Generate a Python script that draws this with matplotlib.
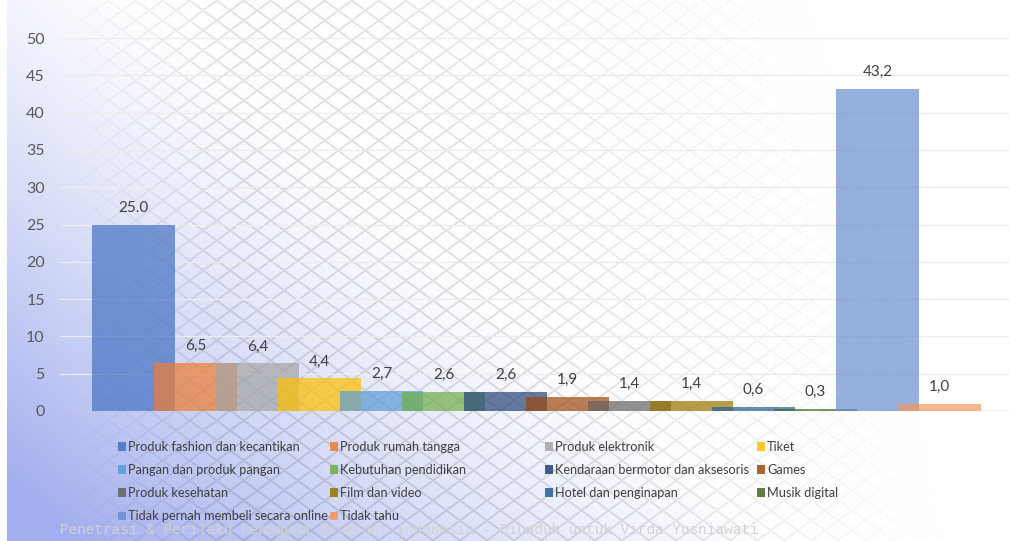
import numpy as np
import matplotlib
matplotlib.use("Agg")
import matplotlib.pyplot as plt
from matplotlib.patches import Patch

categories = [
    "Produk fashion dan kecantikan",
    "Produk rumah tangga",
    "Produk elektronik",
    "Tiket",
    "Pangan dan produk pangan",
    "Kebutuhan pendidikan",
    "Kendaraan bermotor dan aksesoris",
    "Games",
    "Produk kesehatan",
    "Film dan video",
    "Hotel dan penginapan",
    "Musik digital",
    "Tidak pernah membeli secara online",
    "Tidak tahu",
]
values = [25.0, 6.5, 6.4, 4.4, 2.7, 2.6, 2.6, 1.9, 1.4, 1.4, 0.6, 0.3, 43.2, 1.0]
value_labels = ["25.0", "6,5", "6,4", "4,4", "2,7", "2,6", "2,6",
                "1,9", "1,4", "1,4", "0,6", "0,3", "43,2", "1,0"]
colors = ["#4472C4", "#ED7D31", "#A5A5A5", "#FFC000", "#5B9BD5", "#70AD47",
          "#264478", "#9E480E", "#636363", "#997300", "#255E91", "#43682B",
          "#698ED0", "#F1975A"]
yticks = list(range(0, 55, 5))
watermark = "Penetrasi & Perilaku Pengguna Internet Indonesia - Diunduh untuk Virda Yusniawati"

plt.rcParams['font.family'] = ['Lato', 'DejaVu Sans']

W, H = 1009, 541
fig = plt.figure(figsize=(W / 100, H / 100), dpi=100)

# background: blue wash at bottom left + light diamond hatch
yy, xx = np.mgrid[0:H, 0:W].astype(float)
s = xx / W
t = yy / H
w = np.clip(t * 0.9 + 0.2 - 1.4 * s, 0, 1) ** 1.2
blue = np.array([162, 174, 238]) / 255.0
img = np.ones((H, W, 3)) * (1 - w[..., None]) + blue * w[..., None]
k = 0.74
per = 20.0
p1 = np.mod(yy - k * xx, per)
p2 = np.mod(yy + k * xx, per)
d1 = np.minimum(p1, per - p1) / np.sqrt(1 + k * k)
d2 = np.minimum(p2, per - p2) / np.sqrt(1 + k * k)
lines = np.maximum(np.exp(-(d1 / 0.9) ** 2), np.exp(-(d2 / 0.9) ** 2))
h = np.clip(1.6 - 2.0 * s + 1.2 * t - t * s, 0, 1) * np.clip(s * 6 - 0.4, 0, 1)
img = img * (1 - 0.14 * h * lines)[..., None]
img[:, :7, :] = 1.0

bg = fig.add_axes([0, 0, 1, 1], zorder=-10)
bg.imshow(img, aspect='auto', interpolation='bilinear')
bg.axis('off')

ax = fig.add_axes([60 / W, (H - 411) / H, 1 - 60 / W, (411 - 38) / H])
ax.patch.set_alpha(0)
x = np.arange(len(values))
bars = ax.bar(x, values, width=1.34, color=colors, alpha=0.7, edgecolor='none', zorder=3)
for xi, v, lab in zip(x, values, value_labels):
    ax.annotate(lab, (xi, v), xytext=(0, 12), textcoords='offset points',
                ha='center', va='center', fontsize=11, color='#404040', zorder=4)

ax.set_xlim(-1.185, 14.12)
ax.set_ylim(0, 50)
ax.set_yticks(yticks)
ax.set_xticks([])
ax.grid(axis='y', color='#ececec', linewidth=0.9, zorder=0)
ax.axhline(0, color='#c8c8c8', linewidth=1, zorder=2)
for sp in ax.spines.values():
    sp.set_visible(False)
ax.tick_params(axis='y', length=0, pad=11, labelsize=11.5, labelcolor='#595959')

# watermark
fig.text(60 / W, 1 - 530 / H, watermark, family='Liberation Mono', fontsize=10.4,
         color='#d2d2d2', ha='left', va='center', zorder=1)

# legend, 4 equal-width columns filled row by row
handles = [Patch(facecolor=c, alpha=0.85, edgecolor='none') for c in colors]
col_x = [118, 330, 545, 757]
for c in range(4):
    idx = list(range(c, len(categories), 4))
    leg = fig.legend([handles[i] for i in idx], [categories[i] for i in idx],
                     loc='upper left', bbox_to_anchor=(col_x[c] / W, 1 - 441 / H),
                     frameon=False, fontsize=9.2, labelcolor='#404040',
                     handlelength=0.65, handleheight=0.65, handletextpad=0.15,
                     labelspacing=0.87, borderpad=0, borderaxespad=0)

fig.savefig("out.png", dpi=100)
